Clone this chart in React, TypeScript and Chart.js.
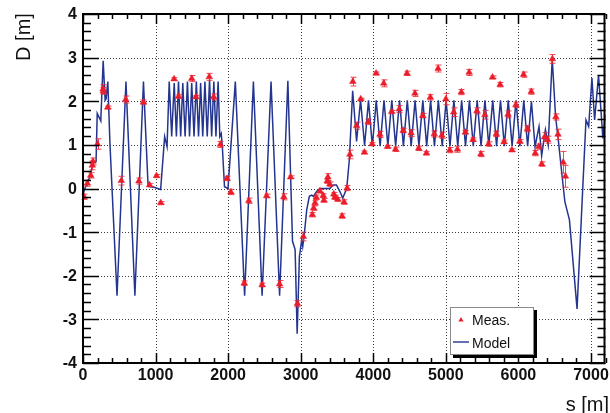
import React, { useEffect, useRef } from "react";
import { Chart, registerables } from "chart.js";
Chart.register(...registerables);

// ---- data ----
const modelS = [0, 25, 60, 100, 140, 180, 196, 245, 278, 305, 318, 342, 372, 469, 592, 715, 833, 897, 980, 1070, 1125, 1158,
  1188, 1222, 1257, 1287, 1316, 1346, 1375, 1407, 1439, 1468, 1498, 1530, 1562, 1592, 1621, 1650, 1680, 1712, 1744, 1773, 1803, 1832, 1862,
  1885, 1905, 1922, 1950, 1998, 2099, 2227, 2348, 2468, 2591, 2709, 2823, 2887, 2923, 2951, 2982, 3014, 3028, 3051, 3083, 3119, 3151, 3175,
  3219, 3265, 3330, 3401, 3447, 3492, 3540, 3579, 3634, 3670, 3716, 3770, 3825, 3880,
  3934, 3987, 4041, 4094, 4148, 4201, 4255, 4308, 4362, 4415, 4469, 4522, 4576, 4629, 4683, 4736, 4790, 4843, 4897, 4950,
  5004, 5057, 5111, 5164, 5218, 5271, 5325, 5378, 5432, 5485, 5539, 5592, 5646, 5699, 5753, 5806, 5860, 5913, 5967, 6020, 6074, 6127, 6179,
  6229, 6284, 6320, 6372, 6410, 6466, 6512, 6557, 6603, 6640, 6703, 6808, 6931, 6968, 7013, 7050, 7104, 7164, 7200];
const modelD = [-0.15, 0.0, 0.12, 0.3, 0.58, 0.62, 1.72, 1.55, 2.93, 2.02, 2.05, 2.45, 1.0, -2.46, 2.45, -2.46, 2.45, 0.05, 0.03, -0.02, 1.19, 0.96,
  2.45, 1.19, 2.42, 1.19, 2.45, 1.19, 2.42, 1.19, 2.45, 1.19, 2.42, 1.19, 2.45, 1.19, 2.42, 1.19, 2.45, 1.19, 2.5, 1.19, 2.45, 1.19, 2.45,
  1.19, 1.26, 0.9, 0.04, 0.0, 2.45, -2.46, 2.45, -2.46, 2.45, -2.46, 2.47, -1.21, -1.4, -3.33, -1.56, -1.18, -1.33, -1.02, -0.49, -0.18, -0.15, -0.18,
  -0.07, 0.0, 0.0, 0.0, 0.08, 0.08, -0.07, -0.22, 0.0, 0.66, 2.24, 1.08, 2.03, 0.98,
  2.02, 0.97, 2.02, 0.97, 2.02, 0.97, 2.02, 0.97, 2.02, 0.97, 2.02, 0.97, 2.02, 0.97, 2.02, 0.97, 2.02, 0.97, 2.02, 0.97,
  2.02, 0.97, 2.02, 0.97, 2.02, 0.97, 2.02, 0.97, 2.02, 0.97, 2.02, 0.97, 2.02, 0.97, 2.02, 0.97, 2.02, 0.97, 2.02, 0.97, 2.02, 0.97, 2.0,
  0.96, 1.42, 0.75, 1.35, 1.0, 2.98, 1.65, 1.0, 0.27, -0.3, -0.72, -2.76, 1.57, 1.42, 2.53, 1.57, 2.6, 1.15, 1.7];

const measS = [14, 60, 106, 128, 137, 200, 276, 281, 340, 528,
  588, 770, 833, 918, 1013, 1072, 1255, 1316, 1498, 1555,
  1740, 1800, 1893, 1984, 2038, 2222, 2285, 2468, 2530, 2709,
  2767, 2861, 2955, 3037, 3160, 3178, 3197, 3214, 3265, 3310,
  3319, 3365, 3374, 3401, 3456, 3470, 3510, 3570, 3597, 3640,
  3677, 3718, 3770, 3827, 3878, 3930, 3984, 4039, 4092, 4144,
  4196, 4253, 4307, 4358, 4412, 4464, 4521, 4574, 4626, 4681,
  4733, 4786, 4840, 4893, 4945, 5000, 5054, 5108, 5160, 5214,
  5269, 5321, 5374, 5428, 5483, 5538, 5588, 5643, 5695, 5748,
  5802, 5857, 5910, 5965, 6019, 6071, 6125, 6177, 6232, 6280,
  6322, 6360, 6402, 6468, 6516, 6545, 6617, 6648];
const measD = [-0.19, 0.12, 0.30, 0.53, 0.62, 1.02, 2.28, 2.24, 1.86, 0.18,
  2.04, 0.17, 1.98, 0.08, 0.29, -0.33, 2.51, 2.11, 2.52, 2.10,
  2.56, 2.10, 1.01, 0.23, -0.08, -2.17, -0.28, -2.21, -0.17, -2.19,
  -0.19, 0.26, -2.64, -1.10, -0.60, -0.45, -0.33, -0.20, -0.06, -0.16,
  -0.27, 0.17, 0.26, 0.10, -0.13, -0.20, -0.25, -0.63, -0.31, 0.01,
  0.78, 2.45, 1.44, 2.05, 0.83, 1.53, 1.02, 2.64, 1.24, 2.41,
  0.96, 1.76, 0.90, 1.82, 1.33, 2.64, 1.27, 2.18, 0.92, 1.67,
  0.81, 2.09, 1.25, 2.75, 1.22, 2.05, 0.88, 1.75, 0.90, 2.21,
  1.29, 2.66, 1.12, 1.78, 0.79, 1.69, 1.02, 2.55, 1.25, 2.38,
  1.07, 1.70, 0.88, 1.92, 1.08, 2.61, 1.37, 2.22, 0.81, 0.96,
  0.56, 1.18, 1.12, 2.97, 1.64, 1.24, 0.60, 0.28];
const measErr = [0.06, 0.07, 0.06, 0.1, 0.08, 0.12, 0.1, 0.08, 0.03, 0.1,
  0.08, 0.07, 0.05, 0.03, 0.03, 0.03, 0.03, 0.04, 0.07, 0.03,
  0.08, 0.07, 0.07, 0.05, 0.06, 0.05, 0.06, 0.04, 0.04, 0.08,
  0.07, 0.03, 0.07, 0.1, 0.05, 0.05, 0.05, 0.05, 0.04, 0.04,
  0.04, 0.05, 0.08, 0.05, 0.04, 0.05, 0.04, 0.05, 0.05, 0.06,
  0.1, 0.1, 0.08, 0.02, 0.03, 0.06, 0.03, 0.03, 0.07, 0.08,
  0.03, 0.03, 0.05, 0.08, 0.05, 0.05, 0.08, 0.07, 0.05, 0.05,
  0.04, 0.06, 0.07, 0.08, 0.07, 0.13, 0.06, 0.1, 0.07, 0.06,
  0.04, 0.07, 0.04, 0.07, 0.06, 0.1, 0.05, 0.03, 0.06, 0.05,
  0.04, 0.08, 0.03, 0.06, 0.04, 0.06, 0.07, 0.06, 0.06, 0.06,
  0.05, 0.1, 0.08, 0.1, 0.07, 0.12, 0.25, 0.25];

const xTickValues = [0, 1000, 2000, 3000, 4000, 5000, 6000, 7000];
const xTickLabels = ["0", "1000", "2000", "3000", "4000", "5000", "6000", "7000"];
const yTickValues = [-4, -3, -2, -1, 0, 1, 2, 3, 4];
const yTickLabels = ["-4", "-3", "-2", "-1", "0", "1", "2", "3", "4"];
const legendLabels = ["Meas.", "Model"];
const xTitle = "s [m]";
const yTitle = "D [m]";

const X_MIN = 0, X_MAX = 7200, Y_MIN = -4, Y_MAX = 4;
const RED = "#ec1c2a";
const BLUE = "#24358f";
const FONT = '"Liberation Sans", Arial, Helvetica, sans-serif';

function triangle(ctx: CanvasRenderingContext2D, x: number, y: number, r: number) {
  ctx.beginPath();
  ctx.moveTo(x, y - r);
  ctx.lineTo(x + r * 0.866, y + r * 0.5);
  ctx.lineTo(x - r * 0.866, y + r * 0.5);
  ctx.closePath();
  ctx.fill();
}

const rootPlugin = {
  id: "rootStyle",
  beforeDatasetsDraw(chart: any) {
    const { ctx, chartArea: a, scales } = chart;
    const xs = scales.x, ys = scales.y;
    ctx.save();
    ctx.strokeStyle = "#3a3a3a";
    ctx.lineWidth = 1;
    ctx.setLineDash([1, 2]);
    xTickValues.forEach((v) => {
      if (v <= X_MIN) return;
      const px = Math.round(xs.getPixelForValue(v)) + 0.5;
      ctx.beginPath(); ctx.moveTo(px, a.top); ctx.lineTo(px, a.bottom); ctx.stroke();
    });
    yTickValues.forEach((v) => {
      if (v <= Y_MIN || v >= Y_MAX) return;
      const py = Math.round(ys.getPixelForValue(v)) + 0.5;
      ctx.beginPath(); ctx.moveTo(a.left, py); ctx.lineTo(a.right, py); ctx.stroke();
    });
    ctx.restore();
  },
  afterDatasetDraw(chart: any, args: any) {
    if (args.index !== 1) return;
    const { ctx, scales } = chart;
    const xs = scales.x, ys = scales.y;
    ctx.save();
    ctx.strokeStyle = "rgba(236,40,52,0.85)";
    ctx.lineWidth = 1;
    measS.forEach((s, i) => {
      const px = Math.round(xs.getPixelForValue(s)) + 0.5;
      const y1 = ys.getPixelForValue(measD[i] + measErr[i]);
      const y2 = ys.getPixelForValue(measD[i] - measErr[i]);
      ctx.beginPath();
      ctx.moveTo(px, y1); ctx.lineTo(px, y2);
      ctx.moveTo(px - 3, y1); ctx.lineTo(px + 3, y1);
      ctx.moveTo(px - 3, y2); ctx.lineTo(px + 3, y2);
      ctx.stroke();
    });
    ctx.restore();
  },
  afterDraw(chart: any) {
    const { ctx, chartArea: a, scales } = chart;
    const xs = scales.x, ys = scales.y;
    ctx.save();
    // frame
    ctx.strokeStyle = "#000";
    ctx.lineWidth = 2;
    ctx.strokeRect(a.left, a.top, a.right - a.left - 1, a.bottom - a.top);
    // ticks
    ctx.lineWidth = 1.5;
    for (let v = X_MIN; v <= X_MAX; v += 200) {
      const major = v % 1000 === 0;
      const len = major ? 10 : 5;
      const px = Math.round(xs.getPixelForValue(v)) + 0.5;
      ctx.beginPath();
      ctx.moveTo(px, a.bottom); ctx.lineTo(px, a.bottom - len);
      ctx.moveTo(px, a.top); ctx.lineTo(px, a.top + len);
      ctx.stroke();
    }
    for (let k = 0; k <= 40; k++) {
      const v = Y_MIN + k * 0.2;
      const major = k % 5 === 0;
      const len = major ? 16 : 8;
      const py = Math.round(ys.getPixelForValue(v)) + 0.5;
      ctx.beginPath();
      ctx.moveTo(a.left, py); ctx.lineTo(a.left + len, py);
      ctx.moveTo(a.right, py); ctx.lineTo(a.right - len, py);
      ctx.stroke();
    }
    // tick labels
    ctx.fillStyle = "#111";
    ctx.font = `bold 16px ${FONT}`;
    ctx.textAlign = "center";
    ctx.textBaseline = "top";
    xTickValues.forEach((v, i) => {
      ctx.fillText(xTickLabels[i], xs.getPixelForValue(v), a.bottom + 5);
    });
    ctx.textAlign = "right";
    ctx.textBaseline = "middle";
    yTickValues.forEach((v, i) => {
      ctx.fillText(yTickLabels[i], a.left - 6, ys.getPixelForValue(v) + 1);
    });
    // titles
    ctx.font = `20px ${FONT}`;
    ctx.textBaseline = "alphabetic";
    ctx.textAlign = "right";
    ctx.fillText(xTitle, 609, 411);
    ctx.save();
    ctx.translate(30, 37);
    ctx.rotate(-Math.PI / 2);
    ctx.textAlign = "center";
    ctx.fillText(yTitle, 0, 0);
    ctx.restore();
    // legend
    const lx = 450, ly = 307, lw = 84, lh = 48;
    ctx.fillStyle = "#000";
    ctx.fillRect(lx + 3, ly + 3, lw, lh);
    ctx.fillStyle = "#fff";
    ctx.fillRect(lx, ly, lw, lh);
    ctx.strokeStyle = "#8a8a8a";
    ctx.lineWidth = 1;
    ctx.strokeRect(lx + 0.5, ly + 0.5, lw - 1, lh - 1);
    ctx.fillStyle = RED;
    triangle(ctx, 461, 320, 3);
    ctx.strokeStyle = BLUE;
    ctx.lineWidth = 1.4;
    ctx.beginPath(); ctx.moveTo(453, 342); ctx.lineTo(469, 342); ctx.stroke();
    ctx.fillStyle = "#111";
    ctx.font = `14px ${FONT}`;
    ctx.textAlign = "left";
    ctx.fillText(legendLabels[0], 472, 325);
    ctx.fillText(legendLabels[1], 472, 348);
    ctx.restore();
  },
};

export default function App() {
  const ref = useRef<HTMLCanvasElement>(null);
  useEffect(() => {
    const canvas = ref.current!;
    const chart = new Chart(canvas, {
      type: "scatter",
      data: {
        datasets: [
          {
            label: legendLabels[0],
            data: measS.map((s, i) => ({ x: s, y: measD[i] })),
            pointStyle: "triangle",
            pointRadius: 3.8,
            pointBackgroundColor: RED,
            pointBorderColor: RED,
            pointBorderWidth: 0.5,
            showLine: false,
          } as any,
          {
            label: legendLabels[1],
            type: "line",
            data: modelS.map((s, i) => ({ x: s, y: modelD[i] })),
            borderColor: BLUE,
            borderWidth: 1.5,
            pointRadius: 0,
            tension: 0,
            fill: false,
          } as any,
        ],
      },
      options: {
        responsive: false,
        animation: false,
        devicePixelRatio: 1,
        events: [],
        layout: { padding: { left: 83, right: 0, top: 14, bottom: 50 } },
        scales: {
          x: { type: "linear", min: X_MIN, max: X_MAX, display: false },
          y: { type: "linear", min: Y_MIN, max: Y_MAX, display: false },
        },
        plugins: { legend: { display: false }, tooltip: { enabled: false } },
      },
      plugins: [rootPlugin],
    });
    return () => chart.destroy();
  }, []);
  return (
    <div style={{ position: "fixed", left: 0, top: 0, width: 610, height: 413, background: "#fff" }}>
      <canvas ref={ref} width={610} height={413} style={{ display: "block" }} />
    </div>
  );
}
